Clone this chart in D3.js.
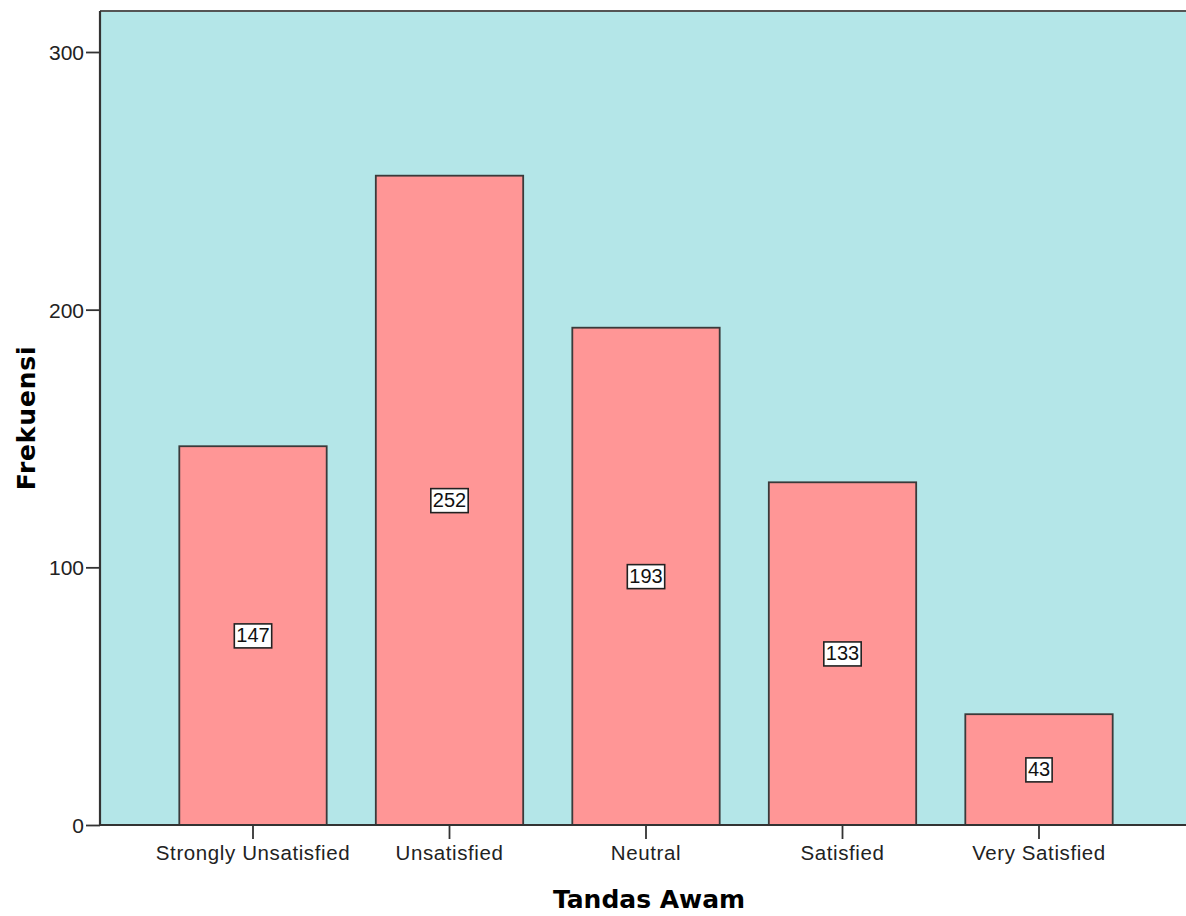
<!DOCTYPE html>
<html><head><meta charset="utf-8">
<script src="https://cdn.jsdelivr.net/npm/d3@7"></script>
<style>body{margin:0;background:#fff}svg{display:block}</style>
</head><body>
<svg id="c" width="1186" height="916"></svg>
<script>
const categories = ["Strongly Unsatisfied","Unsatisfied","Neutral","Satisfied","Very Satisfied"];
const values = [147, 252, 193, 133, 43];
const yTicks = [0, 100, 200, 300];
const xTitle = "Tandas Awam";
const yTitle = "Frekuensi";

const svg = d3.select("#c");
const L = 100, T = 11, R = 1186, B = 825;
const font = "Arial, 'Liberation Sans', sans-serif";
const y = d3.scaleLinear().domain([0, 300]).range([B, 52]);
const x = d3.scaleBand().domain(categories).range([154.75, 1137.25]).paddingInner(0.25).paddingOuter(0.125);

svg.append("rect").attr("x", L).attr("y", T).attr("width", R - L + 5).attr("height", B - T)
  .attr("fill", "#b4e6e8");
svg.append("line").attr("x1", L).attr("x2", R).attr("y1", T).attr("y2", T).attr("stroke", "#555").attr("stroke-width", 2.2);

svg.selectAll("rect.bar").data(values).join("rect").attr("class", "bar")
  .attr("x", (d, i) => x(categories[i]))
  .attr("width", x.bandwidth())
  .attr("y", d => y(d))
  .attr("height", d => B - y(d))
  .attr("fill", "#ff9696").attr("stroke", "#3a3a3a").attr("stroke-width", 1.8);

// y axis
const ya = svg.append("g").attr("transform", `translate(${L},0)`)
  .call(d3.axisLeft(y).tickValues(yTicks).tickSize(14).tickPadding(2));
ya.select(".domain").attr("stroke", "#333").attr("stroke-width", 2.2).attr("d", `M0,${B}V${T}`);
ya.selectAll(".tick line").attr("stroke", "#333").attr("stroke-width", 1.8);
ya.selectAll("text").attr("font-family", font).attr("font-size", 21).attr("fill", "#222").attr("dy", "0.35em");

// x axis
const xa = svg.append("g").attr("transform", `translate(0,${B})`)
  .call(d3.axisBottom(x).tickSize(14).tickPadding(6));
xa.select(".domain").attr("stroke", "#333").attr("stroke-width", 2.2).attr("d", `M${L},0H${R}`);
xa.selectAll(".tick line").attr("stroke", "#333").attr("stroke-width", 1.8);
xa.selectAll("text").attr("font-family", font).attr("font-size", 20.5).attr("letter-spacing", "0.6px").attr("fill", "#222");

// value labels
const lg = svg.append("g");
values.forEach((v, i) => {
  const cx = x(categories[i]) + x.bandwidth() / 2;
  const cy = (y(v) + B) / 2;
  const t = lg.append("text").attr("x", cx).attr("y", cy + 1).attr("text-anchor", "middle").attr("dominant-baseline", "middle")
    .attr("font-family", font).attr("font-size", 20).attr("fill", "#111").text(v);
  const bb = t.node().getBBox();
  lg.insert("rect", "text").attr("x", bb.x - 2).attr("y", bb.y).attr("width", bb.width + 4).attr("height", bb.height + 2)
    .attr("fill", "#fff").attr("stroke", "#222").attr("stroke-width", 1.6);
});

svg.append("text").attr("x", 649).attr("y", 908).attr("text-anchor", "middle")
  .attr("font-family", "'DejaVu Sans', Verdana, sans-serif").attr("font-weight", "bold").attr("font-size", 25).attr("fill", "#000").text(xTitle);
svg.append("text").attr("transform", "translate(35,418) rotate(-90)").attr("text-anchor", "middle")
  .attr("font-family", "'DejaVu Sans', Verdana, sans-serif").attr("font-weight", "bold").attr("font-size", 25).attr("letter-spacing", "0.8px").attr("fill", "#000").text(yTitle);
</script>
</body></html>
